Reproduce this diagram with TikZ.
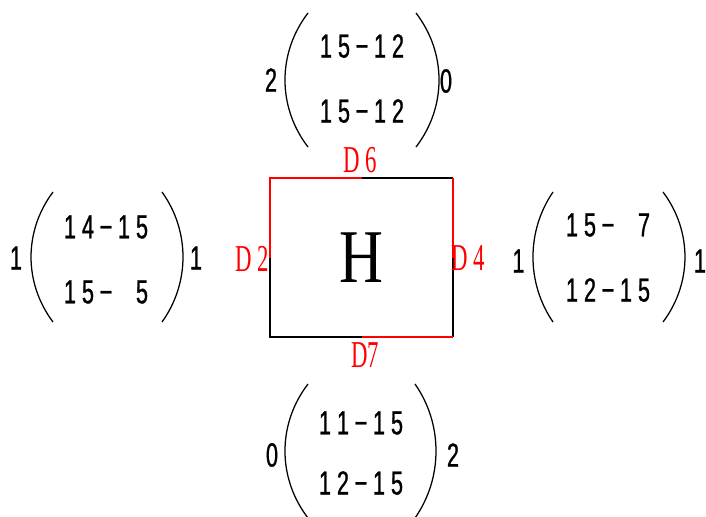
\documentclass[tikz,border=0pt]{standalone}
\usepackage{fontspec}
\usepackage{tikz}
\newfontfamily\cellfont[FakeStretch=0.65, FakeBold=0.8]{Liberation Sans}
\newfontfamily\sidefont[FakeStretch=0.6]{Liberation Serif}
\newfontfamily\hfont[FakeStretch=0.8]{Liberation Serif}
\newlength\cw
\setlength\cw{0.45cm}
\newcommand{\cells}[5]{\makebox[\cw]{#1}\makebox[\cw]{#2}\makebox[\cw]{#3}\makebox[\cw]{#4}\makebox[\cw]{#5}}

\begin{document}
\begin{tikzpicture}[x=0.025cm, y=-0.025cm]
			\tikzstyle{num}=[inner sep=0pt, font=\cellfont\fontsize{23.8}{24}\selectfont]
			\tikzstyle{side}=[inner sep=0pt, text=red, font=\sidefont\fontsize{27}{28}\selectfont]
			\tikzstyle{paren}=[line width=0.9pt]
			\tikzstyle{edge}=[line width=0.8pt]
			\useasboundingbox (0,0) rectangle (706,516);
			\coordinate (nw) at (270,178);
			\coordinate (ne) at (453,178);
			\coordinate (sw) at (270,337);
			\coordinate (se) at (453,337);
			\coordinate (n) at (361.5,178);
			\coordinate (s) at (361.5,337);
			\coordinate (w) at (270,257.5);
			\coordinate (e) at (453,257.5);
			\draw[edge, red] (w) -- (nw) -- (n);
			\draw[edge] (n) -- (ne);
			\draw[edge, red] (ne) -- (e);
			\draw[edge] (e) -- (se);
			\draw[edge, red] (se) -- (s);
			\draw[edge] (s) -- (sw) -- (w);
			\node[inner sep=0pt, font=\hfont\fontsize{54}{56}\selectfont] (hbox) at (361.5,258) {H};
			\node[side] (d6) at (360,160.5) {D\hspace{4pt}6};
			\node[side] (d2) at (252,258.5) {D\hspace{4pt}2};
			\node[side] (d4) at (468.5,258.5) {D\hspace{4pt}4};
			\node[side] (d7) at (365,355.5) {D7};
			% top
			\node[num] (topa) at (362,46) {\cells{1}{5}{−}{1}{2}};
			\node[num] (topb) at (362,111) {\cells{1}{5}{−}{1}{2}};
			\node[num] (topl) at (271,80) {2};
			\node[num] (topr) at (446,81) {0};
			\draw[paren] (308,13) .. controls (277.3,53) and (277.3,107) .. (308,147);
			\draw[paren] (416,13) .. controls (446.7,53) and (446.7,107) .. (416,147);
			% left
			\node[num] (lefta) at (106,227) {\cells{1}{4}{−}{1}{5}};
			\node[num] (leftb) at (106,292) {\cells{1}{5}{−}{}{5}};
			\node[num] (leftl) at (16,258) {1};
			\node[num] (leftr) at (196,258) {1};
			\draw[paren] (53,192) .. controls (23.7,231) and (23.7,283) .. (53,322);
			\draw[paren] (162,192) .. controls (190,231) and (190,283) .. (162,322);
			% right
			\node[num] (righta) at (608,225) {\cells{1}{5}{−}{}{7}};
			\node[num] (rightb) at (608,290) {\cells{1}{2}{−}{1}{5}};
			\node[num] (rightl) at (518.5,261) {1};
			\node[num] (rightr) at (700,261) {1};
			\draw[paren] (553,192) .. controls (526.3,231) and (526.3,283) .. (553,322);
			\draw[paren] (663,192) .. controls (692.3,231) and (692.3,283) .. (663,322);
			% bottom
			\node[num] (bota) at (361,423) {\cells{1}{1}{−}{1}{5}};
			\node[num] (botb) at (361,483) {\cells{1}{2}{−}{1}{5}};
			\node[num] (botl) at (272,455) {0};
			\node[num] (botr) at (453,455) {2};
			\draw[paren] (308,384) .. controls (277.3,424) and (277.3,478) .. (308,518);
			\draw[paren] (415,384) .. controls (443,424) and (443,478) .. (415,518);
		\end{tikzpicture}
\end{document}
